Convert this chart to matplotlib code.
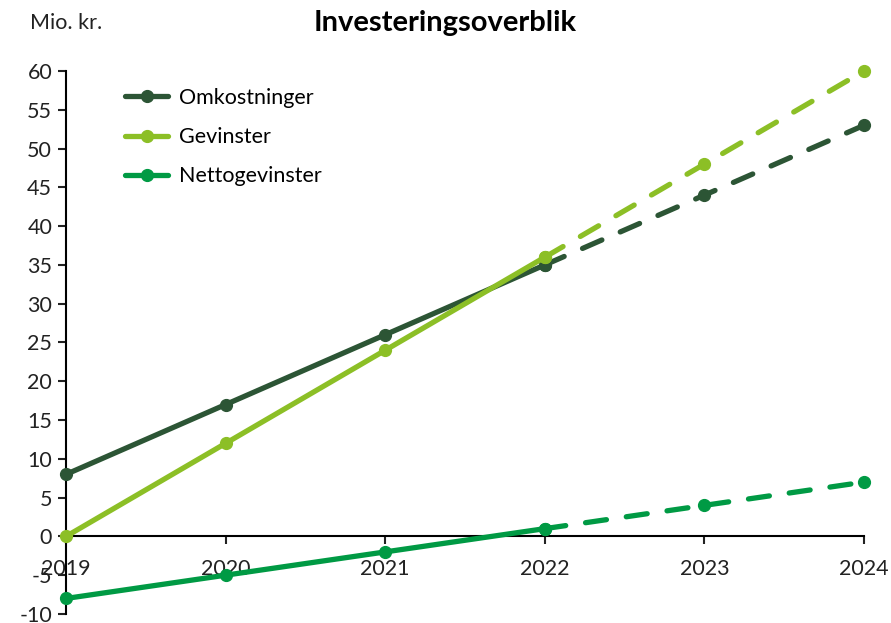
import matplotlib.pyplot as plt

plt.rcParams['font.family'] = ['Lato', 'DejaVu Sans']
plt.rcParams['axes.unicode_minus'] = False

# Data
years = [2019, 2020, 2021, 2022, 2023, 2024]
omkostninger = [8, 17, 26, 35, 44, 53]
gevinster = [0, 12, 24, 36, 48, 60]
netto = [-8, -5, -2, 1, 4, 7]
split = 3  # index of last actual year (2022), forecast after

series = [
    ("Omkostninger", omkostninger, "#2c5535"),
    ("Gevinster", gevinster, "#8cbf26"),
    ("Nettogevinster", netto, "#009a44"),
]

fig = plt.figure(figsize=(8.91, 6.23), dpi=100)
ax = fig.add_axes([0.0741, 0.0145, 0.8956, 0.8715])

lw = 3.8
for name, vals, col in series:
    ax.plot(years[:split + 1], vals[:split + 1], color=col, lw=lw, marker="o",
            ms=8.5, label=name, clip_on=False, solid_capstyle="round", zorder=3)
    ax.plot(years[split:], vals[split:], color=col, lw=lw, marker="o", ms=8.5,
            dashes=(4, 3.8), dash_capstyle="round", clip_on=False, zorder=3)

ax.set_xlim(2019, 2024)
ax.set_ylim(-10, 60)
ax.set_xticks(years)
ax.set_yticks(range(-10, 61, 5))
ax.spines["top"].set_visible(False)
ax.spines["right"].set_visible(False)
ax.spines["bottom"].set_position(("data", 0))
ax.spines["left"].set_linewidth(1.5)
ax.spines["bottom"].set_linewidth(1.5)
ax.tick_params(axis="both", direction="out", length=6, width=1.5,
               labelsize=15.5, colors="#222222", pad=4)
ax.tick_params(axis="x", pad=10)

fig.text(0.5, 0.963, "Investeringsoverblik", ha="center", va="center",
         fontsize=21, fontweight="bold")
fig.text(0.034, 0.963, "Mio. kr.", ha="left", va="center", fontsize=15.5,
         color="#222222")

leg = ax.legend(loc="upper left", bbox_to_anchor=(0.05, 1.005), frameon=False,
                fontsize=15.5, handlelength=2.0, labelspacing=0.9,
                handletextpad=0.5)

fig.savefig("out.png", dpi=100)
